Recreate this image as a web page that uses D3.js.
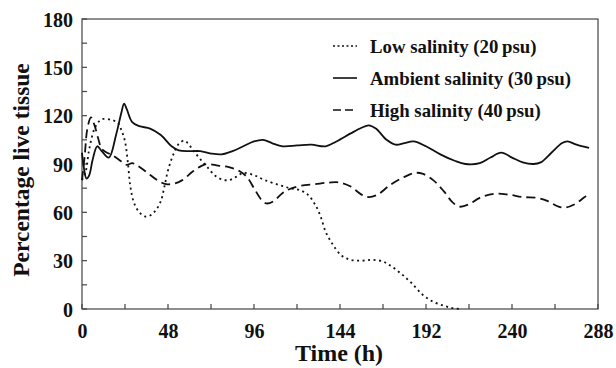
<!DOCTYPE html>
<html><head><meta charset="utf-8">
<script src="https://cdn.jsdelivr.net/npm/d3@7"></script>
<style>
html,body{margin:0;padding:0;background:#fff;}
svg{display:block;}
text{font-family:"Liberation Serif","Times New Roman",serif;font-weight:bold;fill:#111;}
</style></head>
<body><svg id="c" width="616" height="368"></svg>
<script>
// ---- data (time h, % live tissue) ----
const lowHours = [0,2,4,7,10,12,16,20,22,24,25.5,27,29,32,35,38,41,44,46,48,51,54,57,59,62,66,70,74,78,82,86,90,96,102,110,116,121,126,130,133,136,140,145,150,156,162,168,172,178,184,190,196,202,207,212];
const lowValues = [80,85,99,112,117,118,117.5,115.5,111,104,92,76,66,60,57.5,58,61,67,76,86,96,102.5,104.5,103,98.5,93,88,83,80.5,80,82,84.5,83,80,77,75,74,71,65,58,48,40,33,30.5,30,30.5,29.5,27,22,16,9,4.5,2,0.5,0];
const ambHours = [0,1,2.5,4,6,8.5,11,15,19,22,23.5,25,28,32,38,44,50,54,60,66,72,78,84,90,96,101,106,112,120,128,136,142,150,156,160,164,170,175,180,185,192,200,208,214,222,228,234,240,246,252,256,262,268,271,276,283];
const ambValues = [97,88,81,83,93,101,98,94,108,122,127.5,124,116,113.5,112,108,101,98.5,98,98,96.5,96,98,101,104,105,103,101,101.5,102,101,104,109,112.5,114,112,105,102,103,104,101,96,92,90,90.5,94,97,94,91,90,91,97,103,104,102,100];
const highHours = [0,1.5,3,5,7,9,11,14,17,22,25,28,31,36,42,47,52,56,62,67,70,76,82,88,92,96,100,103,107,112,116,122,130,138,144,150,156,160,165,172,180,186,190,196,202,207,211,216,222,230,238,246,254,260,266,270,275,280,283];
const highValues = [80,95,112,119,114,106,99.5,97,95.5,91.5,89.5,90.5,89,85,80,77.5,78,80,85.5,89,90,89,88,85.5,82,75,68,65.5,67,72,74.5,76.5,77.5,78.5,78.5,76,71,69.5,71,77,82,84.5,84,80,73,66,63.5,65,69,71.5,71,69.5,69,67,63.5,63,65,69,71.5];
const seriesNames = ["Low salinity (20\u2009psu)","Ambient salinity (30\u2009psu)","High salinity (40\u2009psu)"];
const xTicks = [0,48,96,144,192,240,288];
const yTicks = [0,30,60,90,120,150,180];

// ---- layout ----
const svg = d3.select("#c");
const L = 82, R = 598, T = 19, B = 309;
const x = d3.scaleLinear().domain([0,288]).range([L,R]);
const y = d3.scaleLinear().domain([0,180]).range([B,T]);

// frame
svg.append("rect").attr("x",L).attr("y",T).attr("width",R-L).attr("height",B-T)
  .attr("fill","none").attr("stroke","#444").attr("stroke-width",1.2);

// x axis
const xAxis = d3.axisBottom(x).tickValues(xTicks).tickSize(0).tickPadding(0).tickFormat(d3.format("d"));
const gx = svg.append("g").attr("transform",`translate(0,${B})`).call(xAxis);
gx.select(".domain").remove();
gx.selectAll("text").attr("dy",null).attr("y",29).style("font-size","20px").style("font-family","Liberation Serif").style("font-weight","bold").attr("fill","#111");
// inward ticks
const xMinor = d3.range(0,289,24);
svg.append("g").selectAll("line").data(xMinor).join("line")
  .attr("x1",d=>x(d)).attr("x2",d=>x(d)).attr("y1",B).attr("y2",B-5)
  .attr("stroke","#444").attr("stroke-width",1.2);

// y axis
const yAxis = d3.axisLeft(y).tickValues(yTicks).tickSize(0).tickPadding(10);
const gy = svg.append("g").attr("transform",`translate(${L},0)`).call(yAxis);
gy.select(".domain").remove();
gy.selectAll("text").attr("x",-9).attr("dy","0.36em").style("font-size","20px").style("font-family","Liberation Serif").style("font-weight","bold").attr("fill","#111");
const yMinor = d3.range(0,181,15);
svg.append("g").selectAll("line").data(yMinor).join("line")
  .attr("x1",L).attr("x2",L+5).attr("y1",d=>y(d)).attr("y2",d=>y(d))
  .attr("stroke","#444").attr("stroke-width",1.2);

// axis titles
svg.append("text").attr("x",(L+R)/2-1).attr("y",361).attr("text-anchor","middle")
  .style("font-size","24px").text("Time (h)");
svg.append("text").attr("transform",`translate(29,${(T+B)/2+6}) rotate(-90)`).attr("text-anchor","middle")
  .style("font-size","23.5px").text("Percentage live tissue");

// lines
const line = d3.line().x(d=>x(d[0])).y(d=>y(d[1])).curve(d3.curveCatmullRom.alpha(0.5));
const series = [
  {pts: d3.zip(lowHours,lowValues), dash:"2,3.5"},
  {pts: d3.zip(ambHours,ambValues), dash:null},
  {pts: d3.zip(highHours,highValues), dash:"9,5"}
];
svg.append("g").selectAll("path").data(series).join("path")
  .attr("d",d=>line(d.pts)).attr("fill","none").attr("stroke","#111")
  .attr("stroke-width",1.8).attr("stroke-dasharray",d=>d.dash);

// legend
const lg = svg.append("g");
const rowsY = [46,78,110];
series.forEach((s,i)=>{
  lg.append("line").attr("x1",333).attr("x2",357).attr("y1",rowsY[i]).attr("y2",rowsY[i])
    .attr("stroke","#111").attr("stroke-width",1.6).attr("stroke-dasharray",i===0?"2,2.5":(i===2?"8,4":null));
  lg.append("text").attr("x",370).attr("y",rowsY[i]).attr("dy","0.35em")
    .style("font-size","18.8px").text(seriesNames[i]);
});
</script></body></html>
